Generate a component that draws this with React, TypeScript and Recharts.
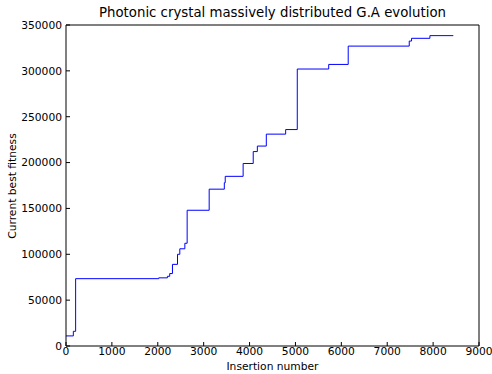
import React from 'react';
import { LineChart, Line, XAxis, YAxis } from 'recharts';

// insertion number at which the best fitness changed, and the new best value
const insertions = [0, 160, 210, 2020, 2210, 2260, 2320, 2430, 2480, 2590, 2640, 3120, 3450, 3470, 3860, 4080, 4170, 4365, 4787, 5040, 5725, 6150, 7480, 7530, 7930, 8440];
const fitness = [11000, 16000, 73400, 74300, 76000, 79000, 89000, 100000, 106000, 112000, 148000, 171000, 178000, 185000, 199000, 212000, 218000, 231000, 236000, 302000, 307000, 327000, 332500, 335500, 338400, 338400];

const xTicks = [0, 1000, 2000, 3000, 4000, 5000, 6000, 7000, 8000, 9000];
const yTicks = [0, 50000, 100000, 150000, 200000, 250000, 300000, 350000];

const data = insertions.map((x, i) => ({ x, y: fitness[i] }));

const FONT = '"DejaVu Sans", sans-serif';
const tickStyle = { fill: '#000', fontSize: 10.7, fontFamily: FONT };

const App: React.FC = () => {
  return (
    <div style={{ position: 'absolute', left: 0, top: 0, width: 492, height: 374, background: '#fff' }}>
      <LineChart width={492} height={374} data={data} margin={{ top: 24, right: 12, bottom: 12, left: 6 }}>
        <XAxis
          dataKey="x"
          type="number"
          domain={[0, 9000]}
          ticks={xTicks}
          interval={0}
          height={16}
          tickSize={-4}
          tickMargin={5}
          stroke="#000"
          tick={tickStyle}
        />
        <XAxis
          xAxisId="top"
          orientation="top"
          dataKey="x"
          type="number"
          domain={[0, 9000]}
          ticks={xTicks}
          interval={0}
          height={1}
          tickSize={-4}
          stroke="#000"
          tick={false}
        />
        <YAxis
          type="number"
          domain={[0, 350000]}
          ticks={yTicks}
          interval={0}
          width={60}
          tickSize={-4}
          tickMargin={8}
          stroke="#000"
          tick={tickStyle}
        />
        <YAxis
          yAxisId="right"
          orientation="right"
          type="number"
          domain={[0, 350000]}
          ticks={yTicks}
          interval={0}
          width={1}
          tickSize={-4}
          stroke="#000"
          tick={false}
        />
        <Line
          dataKey="y"
          type="stepAfter"
          stroke="#0000ff"
          strokeWidth={1}
          dot={false}
          isAnimationActive={false}
        />
      </LineChart>
      <div style={{ position: 'absolute', left: 66, width: 413, top: 5, textAlign: 'center', fontFamily: FONT, fontSize: 13.3, lineHeight: '16px', color: '#000' }}>
        Photonic crystal massively distributed G.A evolution
      </div>
      <div style={{ position: 'absolute', left: 66, width: 413, top: 360, textAlign: 'center', fontFamily: FONT, fontSize: 10.7, lineHeight: '14px', color: '#000' }}>
        Insertion number
      </div>
      <div style={{ position: 'absolute', left: 13, top: 185.5, width: 0, height: 0 }}>
        <div style={{ position: 'absolute', left: -100, top: -7, width: 200, textAlign: 'center', transform: 'rotate(-90deg)', fontFamily: FONT, fontSize: 10.7, lineHeight: '14px', color: '#000', whiteSpace: 'nowrap' }}>
          Current best fitness
        </div>
      </div>
    </div>
  );
};

export default App;
